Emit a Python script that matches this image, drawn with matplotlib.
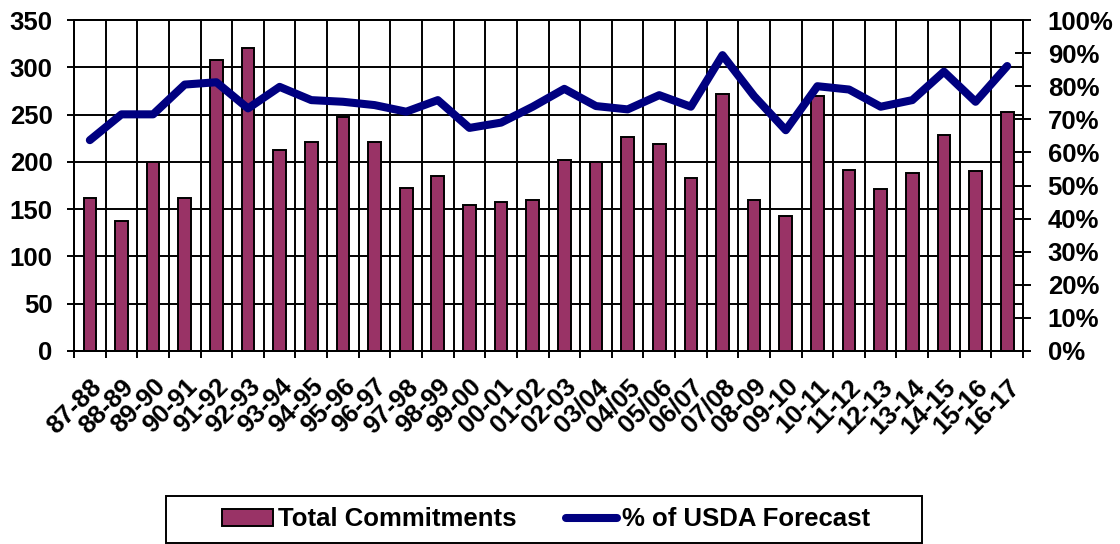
import numpy as np
import matplotlib
matplotlib.use("Agg")
import matplotlib.pyplot as plt
from matplotlib.patches import Rectangle
from matplotlib.ticker import FixedLocator, PercentFormatter

plt.rcParams['font.family'] = ['Liberation Sans', 'DejaVu Sans']
plt.rcParams['font.weight'] = 'bold'

# data
seasons = ["87-88", "88-89", "89-90", "90-91", "91-92", "92-93", "93-94", "94-95",
           "95-96", "96-97", "97-98", "98-99", "99-00", "00-01", "01-02", "02-03",
           "03/04", "04/05", "05/06", "06/07", "07/08", "08-09", "09-10", "10-11",
           "11-12", "12-13", "13-14", "14-15", "15-16", "16-17"]
commitments = [162, 137, 200, 162, 308, 320, 213, 221, 247, 221, 172, 185,
               154, 158, 160, 202, 200, 226, 219, 183, 272, 160, 143, 270,
               191, 171, 188, 228, 190, 253]
pct_forecast = [63.7, 71.5, 71.5, 80.5, 81.2, 73.3, 79.8, 75.8, 75.3, 74.3,
                72.3, 75.8, 67.4, 69.0, 73.8, 79.2, 74.0, 73.0, 77.3, 73.8,
                89.4, 77.0, 66.7, 80.0, 79.0, 73.8, 75.8, 84.4, 75.3, 86.1]

bar_color = "#993366"
line_color = "#000080"
lw = 1.4

fig = plt.figure(figsize=(11.2, 5.44), dpi=100)
ax = fig.add_axes([0.0661, 0.3548, 0.8473, 0.6084])
x = np.arange(len(seasons))

ax.bar(x, commitments, width=0.4, color=bar_color, edgecolor="black",
       linewidth=lw, zorder=3, label="Total Commitments")
ax.set_xlim(-0.5, len(seasons) - 0.5)
ax.set_ylim(0, 350)
ax.set_yticks(np.arange(0, 351, 50))
ax.set_xticks(x)
ax.set_xticklabels(seasons, rotation=45, ha="right", va="top",
                   rotation_mode="anchor", fontsize=18.5, fontweight="bold")
ax.xaxis.set_minor_locator(FixedLocator(np.arange(-0.5, len(seasons), 1.0)))
ax.tick_params(axis="x", which="major", length=0, pad=17)
ax.tick_params(axis="x", which="minor", length=5, width=lw, color="black")
ax.tick_params(axis="y", length=5, width=lw, labelsize=18.5, pad=10.5)
for lbl in ax.get_yticklabels():
    lbl.set_fontweight("bold")
ax.grid(True, axis="y", which="major", color="black", linewidth=lw)
ax.grid(True, axis="x", which="minor", color="black", linewidth=lw)
ax.set_axisbelow(True)
for s in ax.spines.values():
    s.set_linewidth(lw)

ax2 = ax.twinx()
ax2.plot(x, pct_forecast, color=line_color, linewidth=5.8, zorder=4,
         solid_joinstyle="round", solid_capstyle="round",
         label="% of USDA Forecast")
ax2.set_ylim(0, 100)
ax2.set_yticks(np.arange(0, 101, 10))
ax2.yaxis.set_major_formatter(PercentFormatter(decimals=0))
ax2.tick_params(axis="y", direction="inout", length=11.5, width=lw,
                labelsize=18.5, pad=12)
for lbl in ax2.get_yticklabels():
    lbl.set_fontweight("bold")
for s in ax2.spines.values():
    s.set_linewidth(lw)

# legend box drawn by hand so it can be wider than its contents
fig.add_artist(Rectangle((166 / 1120, 1.2 / 544), 756 / 1120, 47 / 544,
                         transform=fig.transFigure, fill=False,
                         edgecolor="black", linewidth=lw))
h1, l1 = ax.get_legend_handles_labels()
h2, l2 = ax2.get_legend_handles_labels()
fig.legend(h1 + h2, l1 + l2, loc="center", ncol=2,
           bbox_to_anchor=(546 / 1120, 1 - 519.5 / 544), frameon=False,
           handlelength=2.0, handleheight=0.6, columnspacing=1.9,
           handletextpad=0.2, borderpad=0.2,
           prop={"weight": "bold", "size": 18.5})

fig.savefig("out.png", dpi=100)
